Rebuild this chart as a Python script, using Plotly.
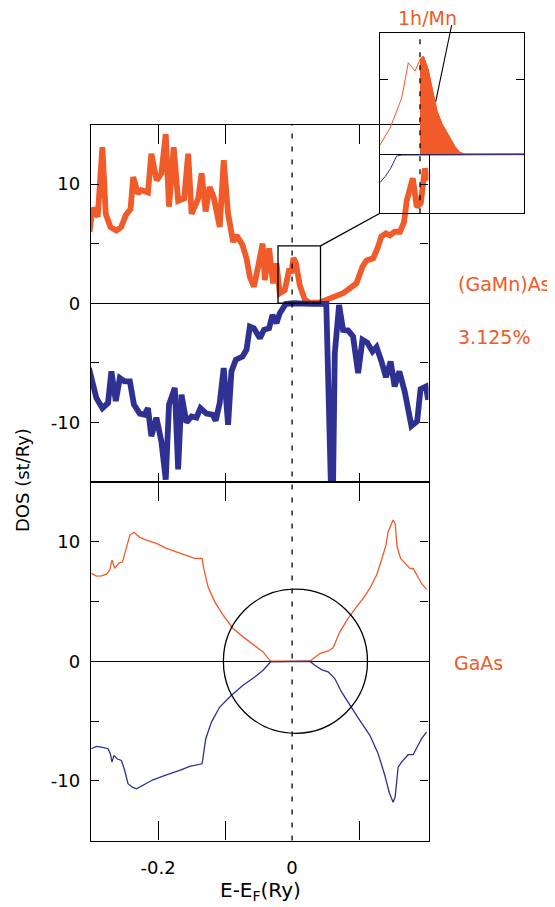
import plotly.graph_objects as go

# The page body adds an 8px margin, so the figure is 8px smaller than the window
OFF = 8
W, H = 555 - OFF, 907 - OFF
ORANGE = "#F15A29"
BLUE = "#2E3192"
FONT = "DejaVu Sans"

# ---------------- data (E - E_F in Ry, DOS in st/Ry) ----------------
# (GaMn)As 3.125%, spin up (orange, positive)
mn_up_x = [-0.302, -0.298, -0.290, -0.283, -0.278, -0.271, -0.262, -0.255, -0.248, -0.241,
           -0.237, -0.230, -0.225, -0.215, -0.210, -0.202, -0.195, -0.1885, -0.1836, -0.1766,
           -0.170, -0.161, -0.155, -0.150, -0.140, -0.135, -0.129, -0.123, -0.117, -0.108,
           -0.102, -0.0955, -0.088, -0.083, -0.074, -0.068, -0.063, -0.057, -0.0507, -0.044,
           -0.0407, -0.0343, -0.0284, -0.0233, -0.0184, -0.011, -0.004, -0.001, 0.002, 0.0055,
           0.0115, 0.019, 0.026, 0.040, 0.051, 0.076, 0.096, 0.105, 0.111, 0.121,
           0.128, 0.133, 0.140, 0.146, 0.153, 0.161, 0.167, 0.171, 0.180, 0.186,
           0.192, 0.198, 0.203]
mn_up_y = [6.0, 8.0, 7.25, 13.1, 7.5, 6.4, 6.1, 6.4, 7.4, 7.9,
           10.6, 9.2, 9.5, 9.3, 12.55, 10.3, 10.9, 14.2, 8.1, 13.1,
           8.6, 8.8, 12.55, 7.5, 8.8, 10.9, 7.7, 9.76, 8.9, 6.4,
           12.0, 7.5, 5.15, 5.7, 4.9, 3.77, 2.2, 1.4, 3.06, 5.0,
           1.95, 4.6, 1.67, 3.35, 0.84, 1.1, 2.9, 2.5, 3.8, 3.4,
           1.5, 0.3, 0.05, 0.05, 0.28, 0.84, 1.67, 3.06, 3.6, 3.77,
           4.7, 5.6, 5.86, 5.7, 6.0, 6.0, 6.8, 8.6, 10.5, 8.1,
           8.4, 11.3, 10.3]

# (GaMn)As 3.125%, spin down (blue, negative)
mn_dn_x = [-0.303, -0.292, -0.283, -0.2746, -0.2696, -0.263, -0.257, -0.250, -0.242, -0.236,
           -0.2273, -0.220, -0.215, -0.210, -0.2024, -0.195, -0.1885, -0.1836, -0.175, -0.170,
           -0.165, -0.1576, -0.150, -0.1427, -0.1367, -0.1278, -0.1188, -0.1139, -0.108, -0.102,
           -0.0955, -0.0905, -0.084, -0.074, -0.068, -0.063, -0.057, -0.048, -0.042, -0.0343,
           -0.0293, -0.0233, -0.0184, -0.0094, 0.0015, 0.014, 0.030, 0.051, 0.0555, 0.060,
           0.0637, 0.0701, 0.076, 0.0836, 0.091, 0.0985, 0.105, 0.112, 0.120, 0.126,
           0.1334, 0.140, 0.147, 0.153, 0.160, 0.168, 0.178, 0.1866, 0.1916, 0.1996,
           0.203]
mn_dn_y = [-5.44, -7.95, -8.8, -8.37, -5.72, -8.2, -6.28, -6.56, -6.56, -8.5,
           -9.26, -9.35, -8.8, -11.16, -9.6, -11.6, -14.8, -8.5, -7.1, -13.95,
           -7.67, -10.0, -9.5, -9.6, -8.8, -9.26, -9.35, -9.85, -8.37, -5.44,
           -10.2, -5.72, -4.74, -4.47, -3.9, -1.96, -2.1, -2.93, -2.23, -2.1,
           -0.98, -1.67, -0.84, -0.06, 0.0, -0.06, -0.05, -0.05, -20.0, -20.0,
           -4.2, -0.14, -2.23, -2.29, -2.79, -5.86, -3.07, -3.3, -4.05, -3.68,
           -4.89, -6.2, -4.89, -6.98, -5.72, -7.4, -10.3, -9.9, -7.2, -6.98,
           -8.1]

# GaAs, spin up (orange)
ga_up_x = [-0.2994, -0.292, -0.2845, -0.277, -0.272, -0.2687, -0.2646, -0.258, -0.253, -0.247,
           -0.242, -0.236, -0.2273, -0.2173, -0.2024, -0.1875, -0.1725, -0.1576, -0.1452, -0.1343,
           -0.1318, -0.1254, -0.1154, -0.103, -0.088, -0.0731, -0.0582, -0.0433, -0.0333, -0.0307,
           0.0264, 0.0313, 0.0413, 0.0537, 0.0612, 0.0712, 0.0836, 0.0961, 0.106, 0.116,
           0.126, 0.1334, 0.140, 0.1433, 0.1469, 0.1507, 0.1537, 0.1567, 0.1618, 0.1682,
           0.1757, 0.1806, 0.1857, 0.1931, 0.2006]
ga_up_y = [7.35, 7.12, 7.15, 7.29, 7.63, 8.47, 7.77, 8.24, 8.32, 9.58,
           10.56, 10.79, 10.37, 10.14, 9.86, 9.45, 9.16, 8.89, 8.61, 8.61,
           7.77, 6.23, 4.97, 3.86, 2.74, 2.04, 1.42, 0.78, 0.08, 0.0,
           0.0, 0.22, 0.64, 0.86, 1.12, 2.46, 3.58, 4.55, 5.26, 6.09,
           7.21, 8.47, 9.72, 10.84, 11.26, 11.82, 11.54, 9.58, 8.61, 8.19,
           7.77, 7.77, 7.21, 6.51, 6.01]

# GaAs, spin down (blue)
ga_dn_x = [-0.2994, -0.292, -0.2845, -0.2746, -0.2711, -0.2687, -0.2657, -0.2612, -0.2546, -0.2497,
           -0.2448, -0.2382, -0.2322, -0.2224, -0.2075, -0.1875, -0.1676, -0.1527, -0.1343, -0.1328,
           -0.1288, -0.1203, -0.108, -0.0905, -0.0731, -0.0557, -0.0433, -0.0322, 0.0264, 0.0339,
           0.0438, 0.0537, 0.0637, 0.0737, 0.0861, 0.101, 0.116, 0.1284, 0.1384, 0.1448,
           0.1507, 0.1537, 0.1582, 0.1633, 0.1731, 0.1806, 0.1866, 0.1931, 0.2006]
ga_dn_y = [-7.32, -7.12, -7.18, -7.32, -7.74, -8.44, -7.88, -8.16, -8.30, -9.14,
           -10.25, -10.54, -10.67, -10.39, -9.92, -9.5, -9.14, -8.80, -8.58, -8.02,
           -6.48, -5.09, -3.83, -2.85, -2.01, -1.32, -0.75, -0.06, 0.0, -0.34,
           -0.70, -0.89, -1.45, -2.57, -3.69, -4.95, -6.2, -7.74, -9.56, -10.96,
           -11.79, -11.37, -8.86, -8.44, -7.82, -7.82, -7.18, -6.48, -5.93]

# Inset: magnified region near E_F (1 hole per Mn shaded)
ins_up_x = [-0.020, -0.015, -0.00915, -0.00585, -0.0025, 0.0, 0.0017, 0.00415, 0.00585, 0.00835,
            0.01085, 0.01415, 0.0175, 0.020, 0.0225, 0.052]
ins_up_y = [0.62, 1.75, 3.75, 6.11, 5.55, 6.3, 6.55, 5.62, 4.51, 2.95,
            2.07, 1.29, 0.51, 0.11, 0.03, 0.05]
ins_dn_x = [-0.020, -0.0175, -0.01465, -0.01165, -0.00915, 0.052]
ins_dn_y = [-1.89, -1.49, -0.93, -0.11, -0.05, -0.02]

X_RANGE = [-0.3, 0.2035]
Y_RANGE = [-15, 15]
INSET_X_RANGE = [-0.02, 0.052]
INSET_Y_RANGE = [-3.933, 8.067]

X_TICKS = [-0.2, -0.1, 0.1]
X_LABEL_VALS = [-0.2, 0]
X_LABEL_TEXT = ["-0.2", "0"]
Y_TICKS = [-10, -5, 0, 5, 10]
Y_TICK_TEXT = ["-10", "", "0", "", "10"]


# ---------------- layout geometry (window pixels -> paper) ----------------
def fx(px):
    return (px - OFF) / W


def fy(py):
    return 1 - (py - OFF) / H


XDOM = [fx(91), fx(428.5)]
TOP_DOM = [fy(482), fy(124.5)]
BOT_DOM = [fy(840.5), fy(482)]
IN_XDOM = [fx(380), fx(524)]
IN_YDOM = [fy(213.3), fy(33.3)]

# box in top panel that the inset magnifies
BOX_X = [-0.021, 0.0424]
BOX_Y = [0.0, 4.82]


def data_to_paper(x, y, xdom, xr, ydom, yr):
    px = xdom[0] + (x - xr[0]) / (xr[1] - xr[0]) * (xdom[1] - xdom[0])
    py = ydom[0] + (y - yr[0]) / (yr[1] - yr[0]) * (ydom[1] - ydom[0])
    return px, py


fig = go.Figure()

thick = 5.8
thin = 1.3
fig.add_trace(go.Scatter(x=mn_up_x, y=mn_up_y, mode="lines", xaxis="x", yaxis="y",
                         line=dict(color=ORANGE, width=thick)))
fig.add_trace(go.Scatter(x=mn_dn_x, y=mn_dn_y, mode="lines", xaxis="x", yaxis="y",
                         line=dict(color=BLUE, width=thick)))
fig.add_trace(go.Scatter(x=ga_up_x, y=ga_up_y, mode="lines", xaxis="x2", yaxis="y2",
                         line=dict(color=ORANGE, width=thin)))
fig.add_trace(go.Scatter(x=ga_dn_x, y=ga_dn_y, mode="lines", xaxis="x2", yaxis="y2",
                         line=dict(color=BLUE, width=thin)))

# inset
fill_x = [x for x in ins_up_x if x >= 0]
fill_y = [y for x, y in zip(ins_up_x, ins_up_y) if x >= 0]
fig.add_trace(go.Scatter(x=fill_x, y=fill_y, mode="lines", xaxis="x5", yaxis="y5",
                         fill="tozeroy", fillcolor=ORANGE, line=dict(color=ORANGE, width=1)))
fig.add_trace(go.Scatter(x=ins_up_x, y=ins_up_y, mode="lines", xaxis="x5", yaxis="y5",
                         line=dict(color=ORANGE, width=1)))
fig.add_trace(go.Scatter(x=ins_dn_x, y=ins_dn_y, mode="lines", xaxis="x5", yaxis="y5",
                         line=dict(color=BLUE, width=1)))
# empty traces so the overlay axes get drawn
fig.add_trace(go.Scatter(x=[], y=[], xaxis="x3", yaxis="y", hoverinfo="skip"))
fig.add_trace(go.Scatter(x=[], y=[], xaxis="x4", yaxis="y2", hoverinfo="skip"))

axline = dict(showline=True, linecolor="black", linewidth=1.3, showgrid=False, zeroline=False)
tickfont = dict(family=FONT, size=18, color="black")

fig.update_layout(
    width=W, height=H,
    margin=dict(l=0, r=0, t=0, b=0),
    paper_bgcolor="white", plot_bgcolor="rgba(0,0,0,0)",
    showlegend=False,
    font=dict(family=FONT, size=18, color="black"),
    xaxis=dict(domain=XDOM, anchor="y", range=X_RANGE, tickvals=X_TICKS, ticks="inside",
               ticklen=9, tickwidth=1.3, tickcolor="black", showticklabels=False, **axline),
    xaxis3=dict(overlaying="x", anchor="y", side="top", range=X_RANGE, tickvals=X_TICKS,
                ticks="inside", ticklen=19, tickwidth=1.3, tickcolor="black",
                showticklabels=False, **axline),
    xaxis2=dict(domain=XDOM, anchor="y2", range=X_RANGE, tickvals=X_TICKS, ticks="inside",
                ticklen=19, tickwidth=1.3, tickcolor="black", mirror="ticks",
                showticklabels=False, **axline),
    xaxis4=dict(overlaying="x2", anchor="y2", side="bottom", range=X_RANGE,
                tickvals=X_LABEL_VALS, ticktext=X_LABEL_TEXT, ticks="", showline=False,
                showgrid=False, zeroline=False, tickfont=tickfont, ticklabelstandoff=14),
    yaxis=dict(domain=TOP_DOM, anchor="x", range=Y_RANGE, tickvals=Y_TICKS,
               ticktext=Y_TICK_TEXT, ticks="inside", ticklen=8, tickwidth=1.3,
               tickcolor="black", mirror="ticks", tickfont=tickfont, ticklabelstandoff=6,
               showline=True, linecolor="black", linewidth=1.3, showgrid=False,
               zeroline=True, zerolinecolor="black", zerolinewidth=1.3),
    yaxis2=dict(domain=BOT_DOM, anchor="x2", range=Y_RANGE, tickvals=Y_TICKS,
                ticktext=Y_TICK_TEXT, ticks="inside", ticklen=8, tickwidth=1.3,
                tickcolor="black", mirror="ticks", tickfont=tickfont, ticklabelstandoff=6,
                showline=True, linecolor="black", linewidth=1.3, showgrid=False,
                zeroline=True, zerolinecolor="black", zerolinewidth=1.3),
    xaxis5=dict(domain=IN_XDOM, anchor="y5", range=INSET_X_RANGE, mirror=True, ticks="",
                showticklabels=False, **axline),
    yaxis5=dict(domain=IN_YDOM, anchor="x5", range=INSET_Y_RANGE, tickvals=[5],
                ticks="inside", ticklen=8, tickwidth=1.3, tickcolor="black", mirror="ticks",
                showticklabels=False, showline=True, linecolor="black", linewidth=1.3,
                showgrid=False, zeroline=True, zerolinecolor="black", zerolinewidth=1.3),
)

shapes = []
# dashed E_F line through both panels
shapes.append(dict(type="line", xref="x", yref="paper", x0=0, x1=0,
                   y0=BOT_DOM[0], y1=TOP_DOM[1],
                   line=dict(color="black", width=1.3, dash="5px,8px")))
# dashed E_F line in inset
shapes.append(dict(type="line", xref="x5", yref="paper", x0=0, x1=0,
                   y0=IN_YDOM[0], y1=IN_YDOM[1],
                   line=dict(color="black", width=1.3, dash="5px,8px")))
# magnified box
shapes.append(dict(type="rect", xref="x", yref="y", x0=BOX_X[0], x1=BOX_X[1],
                   y0=BOX_Y[0], y1=BOX_Y[1], line=dict(color="black", width=1.3)))
# connector from box corner to inset corner
bx, by = data_to_paper(BOX_X[1], BOX_Y[1], XDOM, X_RANGE, TOP_DOM, Y_RANGE)
shapes.append(dict(type="line", xref="paper", yref="paper", x0=bx, y0=by,
                   x1=IN_XDOM[0], y1=IN_YDOM[0], line=dict(color="black", width=1.3)))
# circle in GaAs panel
shapes.append(dict(type="circle", xref="x2", yref="y2", x0=-0.1025, x1=0.1125,
                   y0=-6.03, y1=6.03, line=dict(color="black", width=1.3)))
# leader line for 1h/Mn label
shapes.append(dict(type="line", xref="paper", yref="paper", x0=fx(451.7), y0=fy(25),
                   x1=fx(435.7), y1=fy(101.7), line=dict(color="black", width=1.1)))
fig.update_layout(shapes=shapes)

lab = dict(family=FONT, size=19, color=ORANGE)
annotations = [
    dict(text="(GaMn)As", x=fx(456), y=fy(284), xref="paper", yref="paper",
         xanchor="left", yanchor="middle", showarrow=False, font=lab),
    dict(text="3.125%", x=fx(456), y=fy(337), xref="paper", yref="paper",
         xanchor="left", yanchor="middle", showarrow=False, font=lab),
    dict(text="GaAs", x=fx(452), y=fy(663), xref="paper", yref="paper",
         xanchor="left", yanchor="middle", showarrow=False, font=lab),
    dict(text="1h/Mn", x=fx(427), y=fy(18), xref="paper", yref="paper",
         xanchor="center", yanchor="middle", showarrow=False,
         font=dict(family=FONT, size=19, color=ORANGE)),
    dict(text="DOS (st/Ry)", x=fx(22), y=fy(480), xref="paper", yref="paper",
         xanchor="center", yanchor="middle", textangle=-90, showarrow=False,
         font=dict(family=FONT, size=18, color="black")),
    dict(text="E-E<sub>F</sub>(Ry)", x=fx(260), y=fy(891), xref="paper", yref="paper",
         xanchor="center", yanchor="middle", showarrow=False,
         font=dict(family=FONT, size=20, color="black")),
]
fig.update_layout(annotations=annotations)

fig.write_html("out.html")
